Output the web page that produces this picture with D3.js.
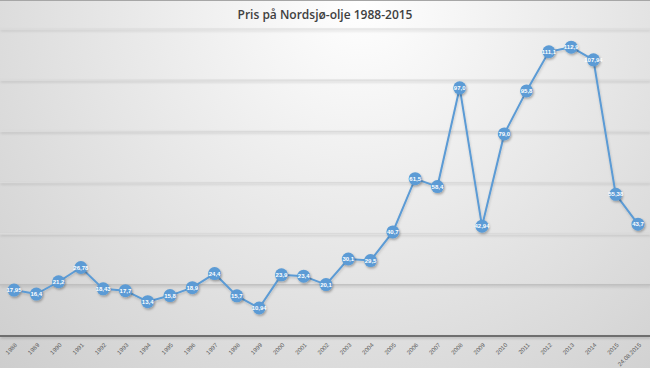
<!DOCTYPE html>
<html>
<head>
<meta charset="utf-8">
<script src="https://cdn.jsdelivr.net/npm/d3@7"></script>
<style>
  body { margin: 0; }
  #canvas { width: 650px; height: 368px; }
</style>
</head>
<body>
<div id="canvas" class="canvas"></div>
<script>
var years = ['1988','1989','1990','1991','1992','1993','1994','1995','1996','1997',
             '1998','1999','2000','2001','2002','2003','2004','2005','2006','2007',
             '2008','2009','2010','2011','2012','2013','2014','2015','24.08.2015'];
var prices = [17.95,16.4,21.2,26.78,18.43,17.7,13.4,15.8,18.9,24.4,
              15.7,10.94,23.9,23.4,20.1,30.1,29.5,40.7,61.5,58.4,
              97.0,42.94,79.0,95.8,111.1,112.9,107.94,55.38,43.7];
var yTicks = [20,40,60,80,100,120];

var W = 650, H = 368;

var svg = d3.select('.canvas')
    .append('svg')
    .attr('width', W)
    .attr('height', H);

// background gradient + shadow filters
var defs = svg.append('defs');
var grad = defs.append('radialGradient').attr('id','bg')
    .attr('gradientUnits','userSpaceOnUse')
    .attr('cx', 360).attr('cy', 0).attr('r', 520);
grad.append('stop').attr('offset','0%').attr('stop-color','#ffffff');
grad.append('stop').attr('offset','100%').attr('stop-color','#cdcdcd');

// userSpaceOnUse so flat horizontal lines don't vanish
var lsh = defs.append('filter').attr('id','lineShadow')
    .attr('filterUnits','userSpaceOnUse')
    .attr('x',0).attr('y',0).attr('width',W).attr('height',H);
lsh.append('feDropShadow').attr('dx',0.5).attr('dy',1.5).attr('stdDeviation',0.8)
    .attr('flood-color','#000').attr('flood-opacity',0.18);

// marker shadow, bbox based
var msh = defs.append('filter').attr('id','markShadow')
    .attr('x','-50%').attr('y','-50%').attr('width','200%').attr('height','200%');
msh.append('feDropShadow').attr('dx',1).attr('dy',1.5).attr('stdDeviation',1)
    .attr('flood-color','#000').attr('flood-opacity',0.3);

svg.append('rect').attr('width', W).attr('height', H).attr('fill','url(#bg)');
svg.append('line').attr('x1',0).attr('x2',W).attr('y1',0.5).attr('y2',0.5)
    .attr('stroke','#a6a6a6');

// scales
var x = d3.scalePoint().domain(years).range([14, 638]);
var y = d3.scaleLinear().domain([0,120]).range([336, 29]);

// gridlines
svg.append('g').selectAll('line')
    .data(yTicks).enter().append('line')
    .attr('x1',0).attr('x2',W)
    .attr('y1',function(d){ return y(d); })
    .attr('y2',function(d){ return y(d); })
    .attr('stroke', function(d){ return d == 20 ? '#b8b8b8' : '#dadada'; })
    .attr('stroke-width',1.2)
    .attr('filter','url(#lineShadow)');

// x axis line
svg.append('line').attr('x1',0).attr('x2',W)
    .attr('y1',y(0)).attr('y2',y(0))
    .attr('stroke','#6e6e6e').attr('stroke-width',2)
    .attr('filter','url(#lineShadow)');

// x tick labels, rotated
svg.append('g').selectAll('.tick-label')
    .data(years).enter().append('text').attr('class','tick-label')
    .attr('transform',function(d){ return 'translate(' + (x(d) + 2) + ',' + (y(0) + 8) + ') rotate(-45)'; })
    .attr('text-anchor','end')
    .attr('dy','0.35em')
    .attr('fill','#595959')
    .style('font-family','Liberation Sans, Arial, sans-serif')
    .style('font-size','6px')
    .text(function(d){ return d; });

// line
var line = d3.line()
    .x(function(d,i){ return x(years[i]); })
    .y(function(d){ return y(d); });

svg.append('path').datum(prices)
    .attr('d', line)
    .attr('fill','none')
    .attr('stroke','#5b9bd5')
    .attr('stroke-width',2)
    .attr('filter','url(#lineShadow)');

// markers with labels
var pts = svg.append('g').selectAll('.pt')
    .data(prices).enter().append('g').attr('class','pt')
    .attr('transform',function(d,i){ return 'translate(' + x(years[i]) + ',' + y(d) + ')'; });

pts.append('circle').attr('r',6.5)
    .attr('fill','#5b9bd5')
    .attr('filter','url(#markShadow)');

pts.append('text')
    .attr('text-anchor','middle')
    .attr('dy','0.35em')
    .attr('fill','#ffffff')
    .style('font-family','Liberation Sans, Arial, sans-serif')
    .style('font-size','6px')
    .style('font-weight','bold')
    .text(function(d){ return (d % 1 === 0 ? d.toFixed(1) : String(d)).replace('.', ','); });

// title
svg.append('text')
    .attr('x', W/2).attr('y', 19)
    .attr('text-anchor','middle')
    .attr('fill','#404040')
    .style('font-family','Open Sans, sans-serif')
    .style('font-size','12px')
    .style('font-weight','600')
    .text('Pris på Nordsjø-olje 1988-2015');
</script>
</body>
</html>
